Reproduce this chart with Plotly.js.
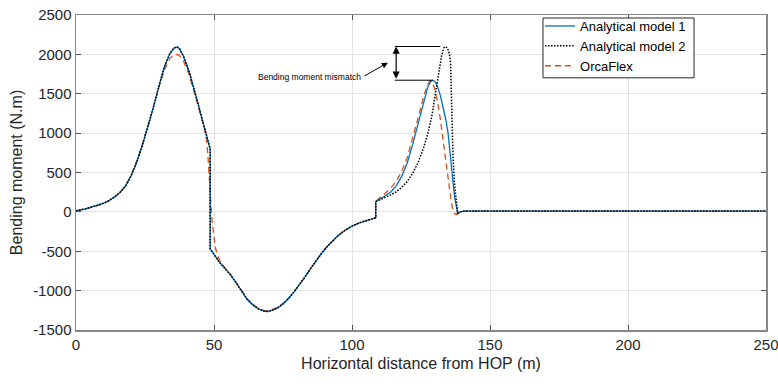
<!DOCTYPE html>
<html>
<head>
<meta charset="utf-8">
<script src="https://cdn.plot.ly/plotly-3.0.1.min.js"></script>
<style>html,body{margin:0;padding:0;background:#fff;}#chart{width:778px;height:384px;}</style>
</head>
<body>
<div id="chart"></div>
<script>
// Shared part of the analytical models (0 .. 108.6 m)
var sharedX = [0, 3, 7, 10, 12, 14, 16, 18, 20, 22, 24, 26, 28, 30, 32, 34, 35.5, 36.5, 37.5, 39, 41, 43, 45, 47, 48.6, 48.6,
               50, 52, 54, 56, 58, 60, 62, 64, 66, 68, 69.5, 71, 73, 75, 77, 79, 81, 83, 85, 87, 89, 91, 93, 95, 97, 100, 103, 106, 108.6, 108.6];
var sharedY = [15, 35, 75, 110, 145, 190, 250, 330, 460, 630, 840, 1070, 1320, 1590, 1840, 2010, 2080, 2095, 2075, 1970, 1780, 1530, 1280, 1020, 800, -470,
               -540, -640, -720, -800, -900, -1010, -1110, -1180, -1230, -1260, -1265, -1250, -1220, -1170, -1100, -1015, -925, -825, -720, -620, -525, -440, -365, -300, -245, -180, -135, -100, -75, 130];

// Model 1 beyond the step
var model1TailX = [110, 112, 114, 116, 118, 120, 122, 124, 126, 127.5, 128.5, 129.3, 130.2, 131, 132, 133, 134, 134.8, 135.5, 136.3, 137.2, 138.3, 139.2, 140.5, 141.5, 200, 250];
var model1TailY = [165, 205, 250, 330, 450, 620, 860, 1130, 1420, 1590, 1655, 1672, 1650, 1590, 1480, 1330, 1170, 1000, 760, 450, 180, -20, 0, 8, 10, 10, 10];

// Model 2 beyond the step
var model2TailX = [110, 112, 114, 116, 118, 120, 122, 124, 126, 127.5, 129, 130.5, 131.5, 132.5, 133.3, 134, 134.7, 135.3, 135.7, 136, 136.3, 136.6, 137.2, 138.3, 139.2, 140.5, 141.5, 200, 250];
var model2TailY = [150, 180, 215, 255, 310, 385, 490, 630, 820, 1000, 1230, 1560, 1780, 1990, 2085, 2100, 2070, 2000, 1900, 1600, 1100, 700, 330, -20, 0, 8, 10, 10, 10];

// OrcaFlex
var orcaX = [0, 3, 7, 10, 12, 14, 16, 18, 20, 22, 24, 26, 28, 30, 32, 34, 35.5, 36.5, 37.5, 39, 41, 43, 45, 46.5, 47.3, 47.8, 48.3, 48.8, 49.3, 49.9, 50.5, 51.3, 52.3,
             54, 56, 58, 60, 62, 64, 66, 68, 69.5, 71, 73, 75, 77, 79, 81, 83, 85, 87, 89, 91, 93, 95, 97, 100, 103, 106, 108.6, 108.6,
             110, 112, 114, 116, 118, 120, 122, 124, 126, 127.3, 128.3, 129.2, 130, 131, 132, 133, 134, 135, 136, 136.8, 137.7, 138.6, 139.5, 141, 200, 250];
var orcaY = [10, 30, 70, 105, 140, 185, 245, 335, 470, 645, 855, 1085, 1330, 1580, 1800, 1950, 1995, 2000, 1985, 1910, 1740, 1500, 1250, 1060, 900, 720, 420, 120, -110, -290, -450, -560, -630,
             -715, -795, -895, -1000, -1100, -1170, -1220, -1250, -1255, -1242, -1212, -1165, -1098, -1015, -925, -825, -720, -620, -525, -440, -365, -300, -245, -180, -135, -100, -75, 130,
             180, 235, 300, 390, 510, 690, 930, 1200, 1470, 1610, 1665, 1640, 1560, 1400, 1180, 920, 650, 370, 120, -10, -35, -10, 5, 10, 10, 10];

var xTicks = [0, 50, 100, 150, 200, 250];
var yTicks = [-1500, -1000, -500, 0, 500, 1000, 1500, 2000, 2500];

var model1X = sharedX.concat(model1TailX), model1Y = sharedY.concat(model1TailY);
var model2X = sharedX.concat(model2TailX), model2Y = sharedY.concat(model2TailY);

var FONT = 'Liberation Sans, Arial, Helvetica, sans-serif';

function tailPeak(xs, ys) {
  var bi = -1;
  for (var i = 0; i < xs.length; i++) {
    if (xs[i] > 108.6 && (bi < 0 || ys[i] > ys[bi])) bi = i;
  }
  return {x: xs[bi], y: ys[bi]};
}
var p1 = tailPeak(model1X, model1Y);
var p2 = tailPeak(model2X, model2Y);
var arrowX = 116;

var traces = [
  {x: orcaX, y: orcaY, name: 'OrcaFlex', mode: 'lines', legendrank: 3,
   line: {color: '#D95319', width: 1.3, dash: '6px,4px'}},
  {x: model1X, y: model1Y, name: 'Analytical model 1', mode: 'lines', legendrank: 1,
   line: {color: '#0072BD', width: 1.3}},
  {x: model2X, y: model2Y, name: 'Analytical model 2', mode: 'lines', legendrank: 2,
   line: {color: '#000000', width: 1.5, dash: '1.5px,1.5px'}}
];

var layout = {
  width: 778, height: 384,
  margin: {l: 76, r: 12, t: 14, b: 54},
  paper_bgcolor: '#ffffff', plot_bgcolor: '#ffffff',
  font: {family: FONT, color: '#262626', size: 14},
  showlegend: true,
  legend: {x: 0.6725, y: 1.0095, xanchor: 'left', yanchor: 'top', bgcolor: 'rgba(0,0,0,0)',
           borderwidth: 0, font: {family: FONT, size: 13, color: '#000'},
           itemwidth: 30, tracegroupgap: 0},
  xaxis: {range: [0, 250], tickvals: xTicks, ticktext: xTicks.map(String),
          showgrid: true, gridcolor: '#e3e3e3', gridwidth: 1, zeroline: false,
          showline: true, linecolor: '#888888', linewidth: 1.5, mirror: 'ticks',
          ticks: 'inside', ticklen: 5, tickcolor: '#555555', tickwidth: 1,
          ticklabeloverflow: 'allow',
          tickfont: {family: FONT, size: 15, color: '#262626'},
          title: {text: 'Horizontal distance from HOP (m)', font: {family: FONT, size: 16, color: '#262626'}, standoff: 6}},
  yaxis: {range: [-1500, 2500], tickvals: yTicks, ticktext: yTicks.map(String),
          showgrid: true, gridcolor: '#e3e3e3', gridwidth: 1, zeroline: false,
          showline: true, linecolor: '#888888', linewidth: 1.5, mirror: 'ticks',
          ticks: 'inside', ticklen: 5, tickcolor: '#555555', tickwidth: 1,
          tickfont: {family: FONT, size: 15, color: '#262626'},
          title: {text: 'Bending moment (N.m)', font: {family: FONT, size: 16, color: '#262626'}, standoff: 6}},
  shapes: [
    {type: 'rect', xref: 'paper', yref: 'paper', x0: 0.6768, x1: 0.8957, y0: 0.8006, y1: 0.9905,
     fillcolor: '#ffffff', line: {color: '#262626', width: 1}, layer: 'above'},
    {type: 'line', xref: 'x', yref: 'y', x0: arrowX - 0.5, x1: p2.x - 2, y0: p2.y, y1: p2.y, line: {color: '#000', width: 1}},
    {type: 'line', xref: 'x', yref: 'y', x0: arrowX - 0.5, x1: p1.x, y0: p1.y, y1: p1.y, line: {color: '#000', width: 1}}
  ],
  annotations: [
    {x: arrowX, y: p2.y, ax: arrowX, ay: p1.y, xref: 'x', yref: 'y', axref: 'x', ayref: 'y',
     text: '', showarrow: true, arrowhead: 2, startarrowhead: 2, arrowside: 'end+start',
     arrowsize: 1.2, startarrowsize: 1.2, arrowwidth: 1.2, arrowcolor: '#000'},
    {x: 113, y: 1895, ax: 104, ay: 1715, xref: 'x', yref: 'y', axref: 'x', ayref: 'y',
     text: '', showarrow: true, arrowhead: 2, arrowsize: 1.2, arrowwidth: 1, arrowcolor: '#000'},
    {x: 104, y: 1715, xref: 'x', yref: 'y', xanchor: 'right', yanchor: 'middle', showarrow: false,
     text: 'Bending moment mismatch', font: {family: FONT, size: 8.5, color: '#000'}}
  ]
};

Plotly.newPlot('chart', traces, layout, {displayModeBar: false, staticPlot: true});
</script>
</body>
</html>
